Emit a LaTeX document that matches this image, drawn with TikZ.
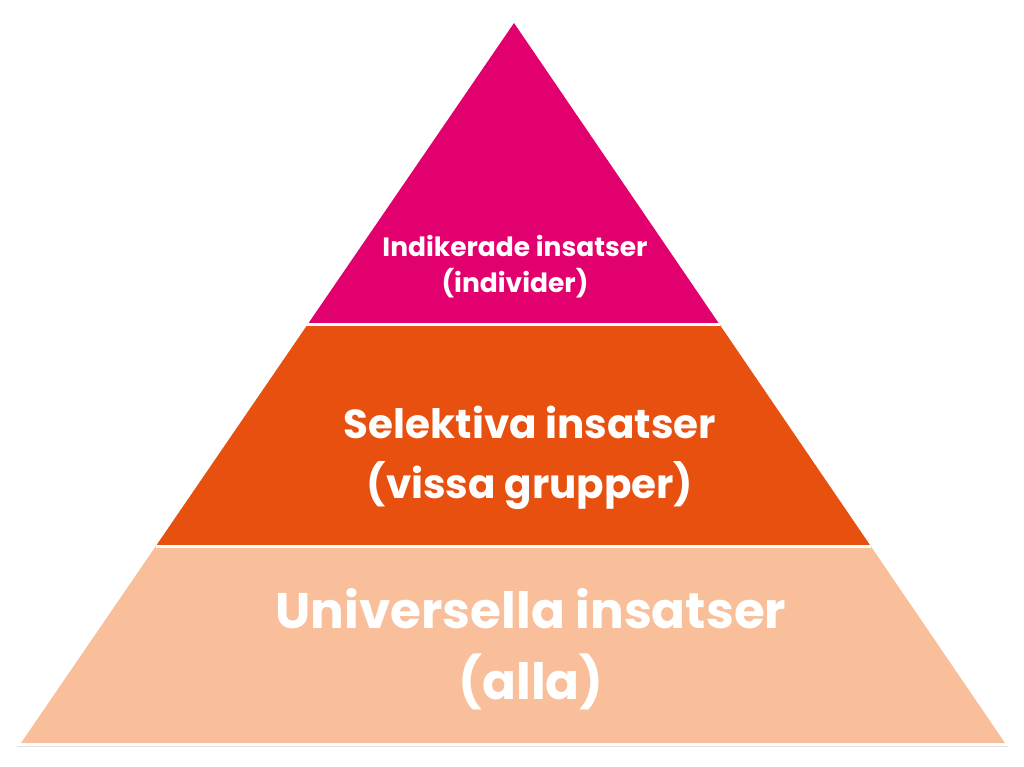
\documentclass[tikz,border=0pt]{standalone}
\usepackage{fontspec}
\setmainfont{Poppins}
\usetikzlibrary{calc}
\definecolor{pyrpink}{HTML}{E2006F}
\definecolor{pyrorange}{HTML}{E8500F}
\definecolor{pyrpeach}{HTML}{F8BF9A}

\begin{document}
\begin{tikzpicture}[
  x=1pt, y=-1pt,
  band/.style={draw=none},
  gap/.style={white, line width=3pt},
  lbl/.style={text=white, align=center, inner sep=0pt, font=\bfseries},
]
\useasboundingbox (0,0) rectangle (1024,766);

% ─── Pyramid corners ───
\coordinate (apex) at (514,23);
\coordinate (bl) at (21,743);
\coordinate (br) at (1005,743);
\coordinate (l1) at ($(apex)!0.4194!(bl)$);
\coordinate (r1) at ($(apex)!0.4194!(br)$);
\coordinate (l2) at ($(apex)!0.7264!(bl)$);
\coordinate (r2) at ($(apex)!0.7264!(br)$);

% ─── Bands ───
\fill[band, pyrpink] (apex) -- (r1) -- (l1) -- cycle;
\fill[band, pyrorange] (l1) -- (r1) -- (r2) -- (l2) -- cycle;
\fill[band, pyrpeach] (l2) -- (r2) -- (br) -- (bl) -- cycle;
\draw[gap] (l1) -- (r1);
\draw[gap] (l2) -- (r2);
\draw[black!12, line width=1pt] ($(bl)+(-4,3)$) -- ($(br)+(3,3)$);

% ─── Labels ───
\node[lbl, font=\bfseries\fontsize{26.5}{36}\selectfont] (top) at (515,267)
  {Indikerade insatser\\(individer)};
\node[lbl, font=\bfseries\fontsize{40.5}{60}\selectfont] (mid) at (530,458)
  {Selektiva insatser\\(vissa grupper)};
\node[lbl, font=\bfseries\fontsize{50}{71}\selectfont] (base) at (531,649)
  {Universella insatser\\(alla)};

\end{tikzpicture}
\end{document}
